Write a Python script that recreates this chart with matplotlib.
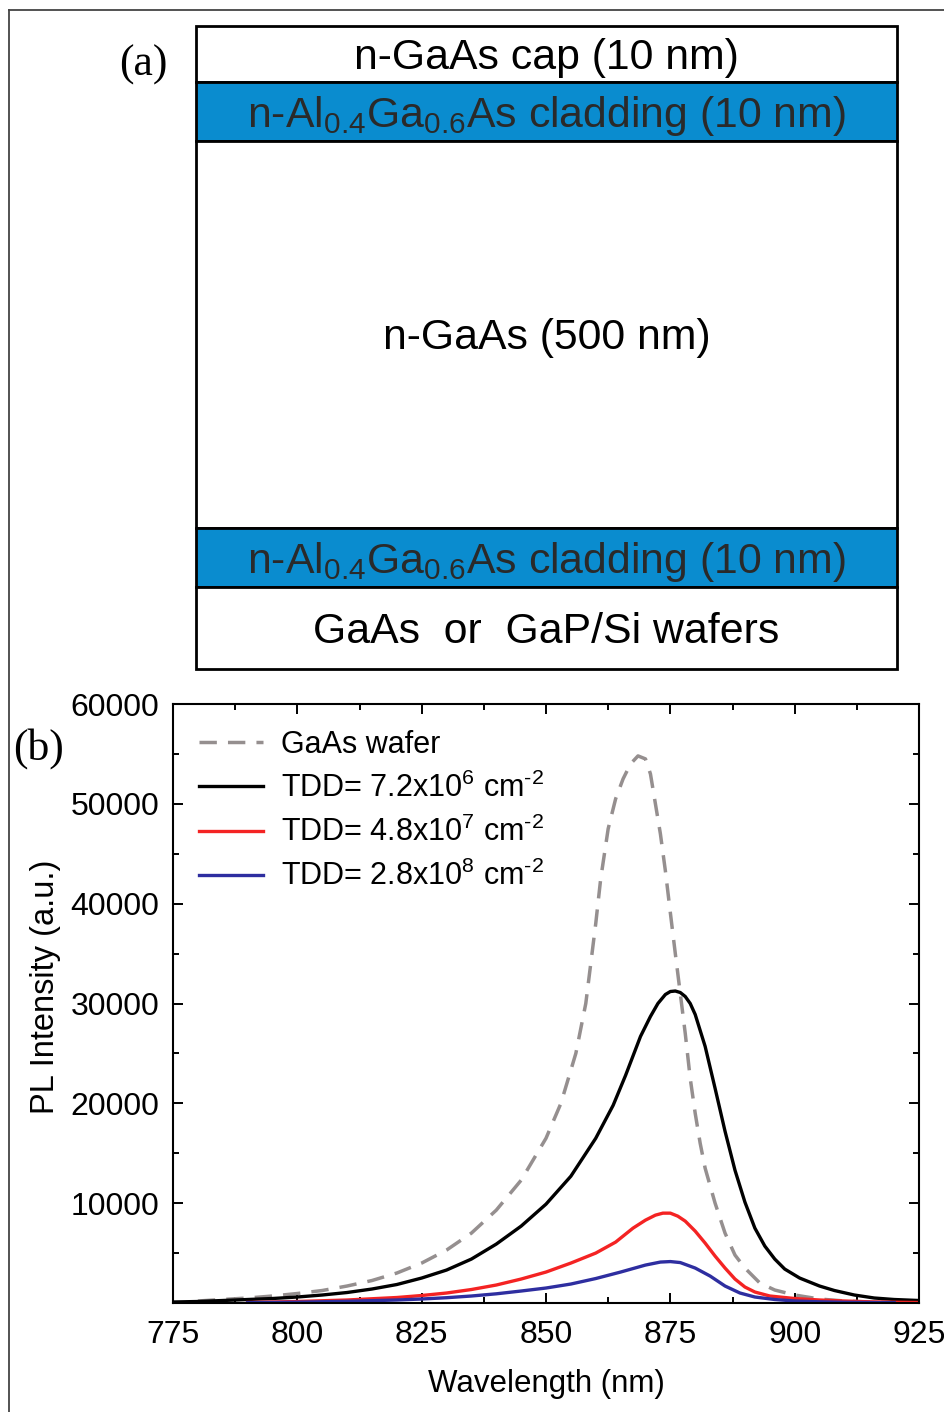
import numpy as np
import matplotlib
matplotlib.use("Agg")
import matplotlib.pyplot as plt
from matplotlib.lines import Line2D

plt.rcParams['font.family'] = ['Liberation Sans', 'DejaVu Sans']
plt.rcParams['mathtext.fontset'] = 'custom'
plt.rcParams['mathtext.rm'] = 'Liberation Sans'
plt.rcParams['mathtext.it'] = 'Liberation Sans:italic'
plt.rcParams['mathtext.bf'] = 'Liberation Sans:bold'

# ---- panel (a): layer stack, top to bottom ----
layer_labels = ['n-GaAs cap (10 nm)',
                r'n-Al$_{0.4}$Ga$_{0.6}$As cladding (10 nm)',
                'n-GaAs (500 nm)',
                r'n-Al$_{0.4}$Ga$_{0.6}$As cladding (10 nm)',
                'GaAs  or  GaP/Si wafers']
layer_colors = ['white', '#0a8ccf', 'white', '#0a8ccf', 'white']
layer_text_colors = ['black', '#2a2a2a', 'black', '#2a2a2a', 'black']
layer_draw_heights = [56, 59, 387, 59, 82]   # drawing heights, not to scale

# ---- panel (b): PL spectra ----
gaas_wl = [780, 785, 790, 795, 800, 805, 810, 815, 820, 825, 830, 835, 840, 845,
           850, 853, 856, 858, 860, 861, 862.5, 864, 865.5, 867, 868.5, 870, 871,
           872, 873, 874, 875, 876, 877, 878, 879, 880, 881, 882, 884, 886, 888,
           890, 893, 896, 900, 905, 910, 915, 920]
gaas_pl = [200, 350, 500, 700, 950, 1250, 1700, 2250, 3000, 4000, 5300, 7000,
           9300, 12300, 16500, 20000, 25000, 30000, 38000, 42500, 47500, 50500,
           52500, 54000, 54800, 54500, 53000, 50000, 47000, 43300, 39100, 35000,
           31000, 27000, 22500, 19000, 16000, 13500, 10000, 7000, 4800, 3500, 2000,
           1300, 800, 400, 200, 100, 50]

tdd1_wl = [775, 780, 785, 790, 795, 800, 805, 810, 815, 820, 825, 830, 835, 840,
           845, 850, 855, 860, 863.5, 866, 869, 871, 872.5, 874, 875, 876, 877,
           878, 879, 880, 882, 884, 886, 888, 890, 892, 894, 896, 898, 901, 905,
           908, 912, 916, 920, 925]
tdd1_pl = [100, 150, 250, 350, 450, 600, 800, 1050, 1400, 1850, 2500, 3300, 4400,
           5900, 7700, 9900, 12700, 16500, 19800, 22800, 26700, 28700, 30000, 30900,
           31200, 31250, 31100, 30700, 30000, 28900, 25700, 21500, 17200, 13300,
           10100, 7500, 5700, 4400, 3400, 2500, 1700, 1250, 800, 500, 350, 250]

tdd2_wl = [790, 800, 810, 820, 825, 830, 835, 840, 845, 850, 855, 860, 864, 867.5,
           870, 872, 873.5, 875, 876.5, 878, 880, 882, 884, 886, 888, 890, 892,
           895, 900, 905, 910, 915, 920, 925]
tdd2_pl = [50, 150, 300, 550, 750, 1000, 1350, 1800, 2400, 3100, 4000, 5000, 6100,
           7500, 8300, 8800, 9000, 9000, 8700, 8200, 7200, 6000, 4700, 3500, 2400,
           1600, 1100, 700, 450, 300, 200, 120, 80, 50]

tdd3_wl = [790, 800, 810, 820, 825, 830, 835, 840, 845, 850, 855, 860, 865, 870,
           873, 875, 877, 880, 883, 886, 889, 892, 896, 900, 905, 910, 920]
tdd3_pl = [30, 80, 170, 300, 400, 530, 700, 920, 1200, 1500, 1900, 2450, 3100,
           3800, 4100, 4150, 4050, 3500, 2700, 1700, 1000, 600, 350, 200, 120, 70, 30]

series_labels = ['GaAs wafer',
                 'TDD= 7.2x10$^{6}$ cm$^{\u20102}$',
                 'TDD= 4.8x10$^{7}$ cm$^{\u20102}$',
                 'TDD= 2.8x10$^{8}$ cm$^{\u20102}$']

W, H = 945, 1412
fig = plt.figure(figsize=(W / 100, H / 100), dpi=100)

# outer frame (only top and left visible)
fig.add_artist(Line2D([9 / W, 9 / W], [0, 1 - 10 / H], color='#444444', lw=1.3))
fig.add_artist(Line2D([9 / W, 1], [1 - 10 / H, 1 - 10 / H], color='#444444', lw=1.3))

# ---- (a) ----
axa = fig.add_axes([196 / W, 1 - 669 / H, 701 / W, 643 / H])
axa.set_xlim(0, 1)
total = sum(layer_draw_heights)
axa.set_ylim(0, total)
axa.axis('off')
top = total
for lab, col, tcol, h in zip(layer_labels, layer_colors, layer_text_colors, layer_draw_heights):
    axa.bar(0.5, h, width=1.0, bottom=top - h, color=col, edgecolor='black',
            linewidth=2.0, clip_on=False)
    axa.text(0.5, top - h / 2 - 4, lab, ha='center', va='center', fontsize=30.8, color=tcol)
    top -= h
fig.text(119 / W, 1 - 76 / H, '(a)', family='Liberation Serif', fontsize=31.5,
         ha='left', va='baseline')

# ---- (b) ----
ax = fig.add_axes([173 / W, 1 - 1303 / H, 746 / W, 599 / H])
ax.plot(gaas_wl, gaas_pl, color='#958f8f', lw=2.5, dashes=(5, 3.2), label=series_labels[0])
ax.plot(tdd1_wl, tdd1_pl, color='black', lw=2.4, label=series_labels[1])
ax.plot(tdd2_wl, tdd2_pl, color='#f42323', lw=2.4, label=series_labels[2])
ax.plot(tdd3_wl, tdd3_pl, color='#2e2ea0', lw=2.4, label=series_labels[3])

ax.set_xlim(775, 925)
ax.set_ylim(0, 60000)
ax.set_xticks(np.arange(775, 926, 25))
ax.set_xticks(np.arange(775, 926, 12.5), minor=True)
ax.set_yticks(np.arange(10000, 60001, 10000))
ax.set_yticks(np.arange(0, 60001, 5000), minor=True)
ax.tick_params(which='both', direction='in', top=True, right=True, width=1.4)
ax.tick_params(which='major', length=7, labelsize=23)
ax.tick_params(axis='x', which='major', pad=12)
ax.tick_params(axis='y', which='major', pad=10)
ax.tick_params(which='minor', length=4.5)
for s in ax.spines.values():
    s.set_linewidth(1.5)
ax.set_xlabel('Wavelength (nm)', fontsize=22.5, labelpad=14)
ax.set_ylabel('PL Intensity (a.u.)', fontsize=23.5)
ax.yaxis.set_label_coords(-0.15, 0.528)

ax.legend(loc='upper left', bbox_to_anchor=(0.0, 1.0), frameon=False, fontsize=22,
          handlelength=2.1, handletextpad=0.6, labelspacing=0.42, borderaxespad=0.45)

fig.text(13 / W, 1 - 760 / H, '(b)', family='Liberation Serif', fontsize=31.5,
         ha='left', va='baseline')

fig.savefig('out.png', dpi=100)
